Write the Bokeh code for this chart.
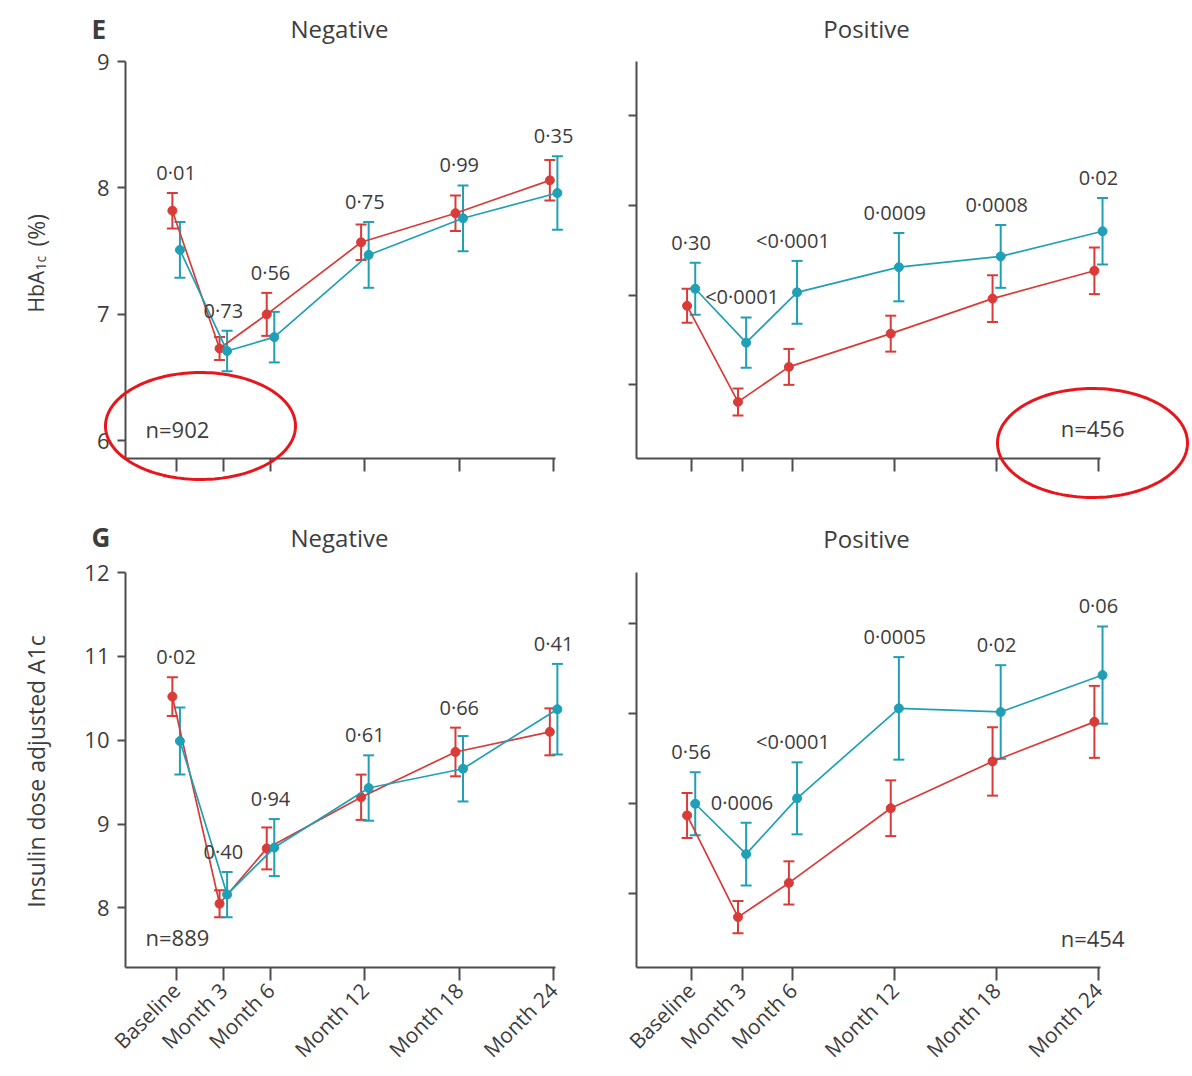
import numpy as np
from bokeh.plotting import figure
from bokeh.models import (ColumnDataSource, Whisker, TeeHead, Label, FixedTicker,
                          PolyAnnotation, Range1d)
from bokeh.layouts import column, row
from bokeh.embed import file_html
from bokeh.resources import INLINE
from bokeh.core.properties import value

# ---------------- data ----------------
months = [0, 3, 6, 12, 18, 24]
x_labels = ["Baseline", "Month 3", "Month 6", "Month 12", "Month 18", "Month 24"]

# Panel E - HbA1c, Negative (n=902)
e_neg_red = [7.82, 6.73, 7.00, 7.57, 7.80, 8.06]
e_neg_red_err = [0.14, 0.09, 0.17, 0.14, 0.14, 0.16]
e_neg_teal = [7.51, 6.71, 6.82, 7.47, 7.76, 7.96]
e_neg_teal_err = [0.22, 0.16, 0.20, 0.26, 0.26, 0.29]
e_neg_p = ["0·01", "0·73", "0·56", "0·75", "0·99", "0·35"]
e_neg_yticks = [6, 7, 8, 9]

# Panel E - HbA1c, Positive (n=456)
e_pos_red = [7.88, 6.81, 7.20, 7.57, 7.96, 8.27]
e_pos_red_err = [0.19, 0.15, 0.20, 0.20, 0.26, 0.26]
e_pos_teal = [8.07, 7.47, 8.03, 8.31, 8.43, 8.71]
e_pos_teal_err = [0.29, 0.28, 0.35, 0.38, 0.35, 0.37]
e_pos_p = ["0·30", "<0·0001", "<0·0001", "0·0009", "0·0008", "0·02"]
e_pos_yticks = [7, 8, 9, 10]

# Panel G - insulin dose adjusted A1c, Negative (n=889)
g_neg_red = [10.52, 8.05, 8.71, 9.32, 9.86, 10.10]
g_neg_red_err = [0.23, 0.16, 0.25, 0.27, 0.29, 0.28]
g_neg_teal = [9.99, 8.16, 8.72, 9.43, 9.66, 10.37]
g_neg_teal_err = [0.40, 0.27, 0.34, 0.39, 0.39, 0.54]
g_neg_p = ["0·02", "0·40", "0·94", "0·61", "0·66", "0·41"]
g_neg_yticks = [8, 9, 10, 11, 12]

# Panel G - Positive (n=454)
g_pos_red = [9.87, 8.74, 9.12, 9.95, 10.47, 10.91]
g_pos_red_err = [0.25, 0.18, 0.24, 0.31, 0.38, 0.40]
g_pos_teal = [10.00, 9.44, 10.06, 11.06, 11.02, 11.43]
g_pos_teal_err = [0.35, 0.35, 0.40, 0.57, 0.52, 0.54]
g_pos_p = ["0·56", "0·0006", "<0·0001", "0·0005", "0·02", "0·06"]
g_pos_yticks = [9, 10, 11, 12]

# ---------------- style ----------------
RED = "#d83b38"
TEAL = "#20a0b6"
MARK = "#e8161c"
TXT = "#3d3d3d"
AX = "#4d4d4d"
FONT = "Open Sans"
DODGE = 0.24
XR = (-3.22, 24.12)


def make_panel(canvas, box, yr, red, red_err, teal, teal_err, pvals, yticks,
               show_ylabels, show_xlabels):
    cx, cy, cw, ch = canvas
    fl, ft, fw, fh = box
    sx = fw / (XR[1] - XR[0])
    sy = fh / (yr[1] - yr[0])
    ext_x = (XR[0] - (fl - cx) / sx, XR[0] + (cx + cw - fl) / sx)
    ext_y = (yr[1] - (cy + ch - ft) / sy, yr[1] + (ft - cy) / sy)

    p = figure(width=cw, height=ch, min_border=0,
               x_range=Range1d(*ext_x), y_range=Range1d(*ext_y),
               output_backend="svg", toolbar_location=None, tools="")
    p.outline_line_color = None
    p.xgrid.visible = False
    p.ygrid.visible = False
    p.background_fill_color = "white"
    p.border_fill_color = "white"

    def to_data(px, py):
        return ext_x[0] + (px - cx) / sx, ext_y[1] - (py - cy) / sy

    # axes drawn at the corner of the data box
    for ax in (p.xaxis[0], p.yaxis[0]):
        ax.axis_line_color = AX
        ax.axis_line_width = 2
        ax.major_tick_line_color = AX
        ax.major_tick_line_width = 2
        ax.minor_tick_line_color = None
        ax.major_tick_in = 0
        ax.major_label_text_font = FONT
        ax.major_label_text_color = TXT
    p.xaxis.fixed_location = yr[0]
    p.xaxis.bounds = XR
    p.yaxis.fixed_location = XR[0]
    p.yaxis.bounds = yr

    p.xaxis.ticker = FixedTicker(ticks=months)
    p.xaxis.major_tick_out = 13
    p.xaxis.major_label_standoff = 6
    if show_xlabels:
        p.xaxis.major_label_overrides = {m: lab for m, lab in zip(months, x_labels)}
        p.xaxis.major_label_orientation = np.pi / 4
        p.xaxis.major_label_text_font_size = "21px"
    else:
        p.xaxis.major_label_overrides = {m: "" for m in months}
    p.yaxis.ticker = FixedTicker(ticks=yticks)
    p.yaxis.major_tick_out = 8
    p.yaxis.major_label_standoff = 8
    p.yaxis.major_label_text_font_size = "22px"
    if not show_ylabels:
        p.yaxis.major_label_overrides = {t: "" for t in yticks}

    # series
    for vals, errs, col, d in ((red, red_err, RED, -DODGE), (teal, teal_err, TEAL, DODGE)):
        src = ColumnDataSource(dict(
            x=[m + d for m in months], y=vals,
            upper=[v + e for v, e in zip(vals, errs)],
            lower=[v - e for v, e in zip(vals, errs)]))
        p.add_layout(Whisker(source=src, base="x", upper="upper", lower="lower",
                             line_color=col, line_width=2,
                             upper_head=TeeHead(size=11, line_color=col, line_width=2),
                             lower_head=TeeHead(size=11, line_color=col, line_width=2)))
        p.line("x", "y", source=src, line_color=col, line_width=1.7)
        p.scatter("x", "y", source=src, size=9, fill_color=col, line_color=col)

    # p-values above the highest error bar
    tops = [max(r + re, t + te) for r, re, t, te in zip(red, red_err, teal, teal_err)]
    psrc = ColumnDataSource(dict(x=months, y=[t + 7 / sy for t in tops], text=pvals))
    p.text("x", "y", text="text", source=psrc, text_align="center",
           text_baseline="bottom", text_font=value(FONT), text_font_size="20px",
           text_color=TXT)
    return p, to_data


def add_label(p, to_data, px, py, text, size, align="left", baseline="middle",
              angle=0.0, bold=False):
    x, y = to_data(px, py)
    p.add_layout(Label(x=x, y=y, text=text, text_font=FONT, text_font_size=size,
                       text_color=TXT, text_align=align, text_baseline=baseline,
                       angle=angle, text_font_style="bold" if bold else "normal"))


def add_ellipse(p, to_data, cx, cy, rx, ry):
    t = np.linspace(0, 2 * np.pi, 160)
    pts = [to_data(cx + rx * np.cos(a), cy + ry * np.sin(a)) for a in t]
    p.add_layout(PolyAnnotation(xs=[q[0] for q in pts], ys=[q[1] for q in pts],
                                fill_color=None, fill_alpha=0, line_color=MARK,
                                line_alpha=1.0, line_width=3, level="overlay"))


# ---------------- panels (canvas, data box in page pixels) ----------------
tl, tl_d = make_panel((0, 0, 580, 505), (125, 61, 430, 397), (5.86, 9.0),
                      e_neg_red, e_neg_red_err, e_neg_teal, e_neg_teal_err, e_neg_p,
                      e_neg_yticks, True, False)
tr, tr_d = make_panel((580, 0, 610, 505), (636, 61, 464, 397), (6.18, 10.60),
                      e_pos_red, e_pos_red_err, e_pos_teal, e_pos_teal_err, e_pos_p,
                      e_pos_yticks, False, False)
bl, bl_d = make_panel((0, 505, 580, 569), (125, 572, 430, 395), (7.29, 12.0),
                      g_neg_red, g_neg_red_err, g_neg_teal, g_neg_teal_err, g_neg_p,
                      g_neg_yticks, True, True)
br, br_d = make_panel((580, 505, 610, 569), (636, 572, 464, 395), (8.18, 12.57),
                      g_pos_red, g_pos_red_err, g_pos_teal, g_pos_teal_err, g_pos_p,
                      g_pos_yticks, False, True)

# panel letters and titles
add_label(tl, tl_d, 91, 28, "E", "26px", bold=True)
add_label(bl, bl_d, 91, 536, "G", "26px", bold=True)
add_label(tl, tl_d, 339, 28, "Negative", "24px", align="center")
add_label(tr, tr_d, 866, 28, "Positive", "24px", align="center")
add_label(bl, bl_d, 339, 537, "Negative", "24px", align="center")
add_label(br, br_d, 866, 538, "Positive", "24px", align="center")

# sample sizes
add_label(tl, tl_d, 145, 428, "n=902", "22px")
add_label(tr, tr_d, 1124, 427, "n=456", "22px", align="right")
add_label(bl, bl_d, 145, 936, "n=889", "22px")
add_label(br, br_d, 1124, 937, "n=454", "22px", align="right")

# y-axis titles
add_label(tl, tl_d, 35, 312, "HbA", "21px", align="left", angle=np.pi / 2)
add_label(tl, tl_d, 40, 270, "1c", "14px", align="left", angle=np.pi / 2)
add_label(tl, tl_d, 35, 246, "(%)", "23px", align="left", angle=np.pi / 2)
add_label(bl, bl_d, 35, 771, "Insulin dose adjusted A1c", "23px", align="center",
          angle=np.pi / 2)

# red highlight ellipses
add_ellipse(tl, tl_d, 200, 425.5, 95, 53.5)
add_ellipse(tr, tr_d, 1092, 442.5, 95, 54.5)

layout = column(row(tl, tr), row(bl, br))
open("out.html", "w").write(file_html(layout, INLINE))
